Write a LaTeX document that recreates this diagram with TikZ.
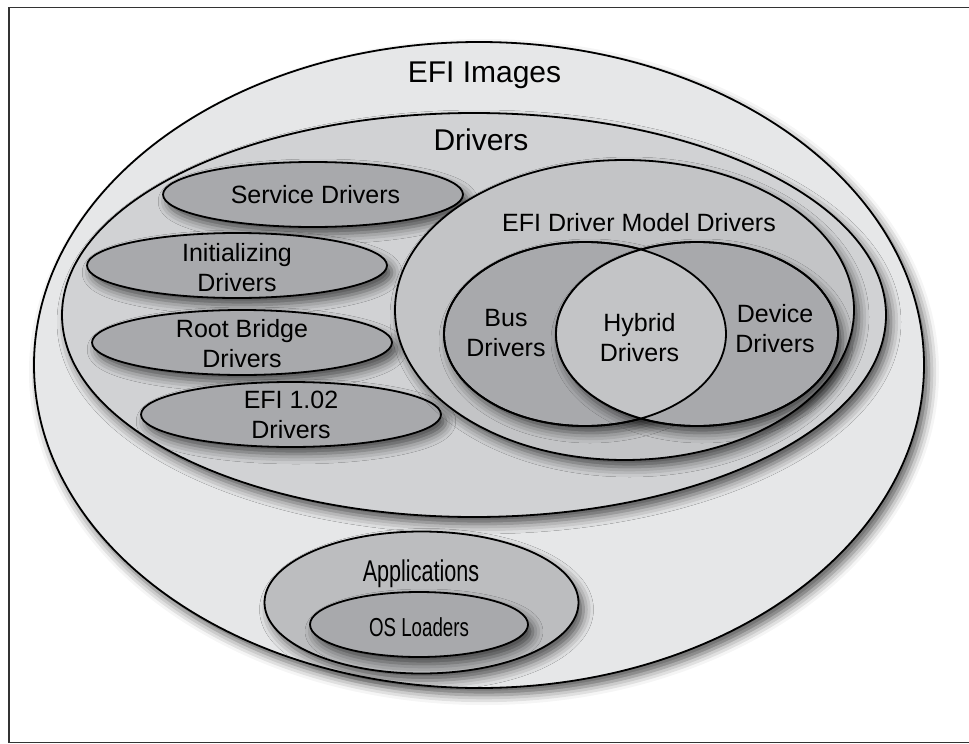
\documentclass[tikz,border=0pt]{standalone}
\usepackage{fontspec}
\setmainfont{Liberation Sans}
\newfontfamily\condfont[FakeStretch=0.72]{Liberation Sans}
\usetikzlibrary{shapes.geometric,shadows.blur}
\definecolor{ringA}{HTML}{E6E7E8}
\definecolor{ringB}{HTML}{D1D2D4}
\definecolor{ringC}{HTML}{C3C4C6}
\definecolor{ringD}{HTML}{BCBDBF}
\definecolor{inner}{HTML}{A8A9AC}

\begin{document}
\begin{tikzpicture}[x=1pt,y=-1pt,
  every node/.style={inner sep=0pt,outer sep=0pt},
  set/.style={ellipse,draw,line width=1.8pt,
    blur shadow={shadow xshift=5pt,shadow yshift=-7pt,shadow blur radius=10pt,shadow opacity=65}},
  big/.style={font=\fontsize{30}{36}\selectfont,anchor=base},
  small/.style={font=\fontsize{25}{30}\selectfont,align=center}]

        \useasboundingbox (0,0) rectangle (969,744);
        \draw[line width=1.4pt,black!80] (969,7.5) -| (9,742.5) -- (969,742.5);

        % nested sets
        \node[set,fill=ringA,minimum width=890,minimum height=646] (img) at (479,365) {};
        \node[set,fill=ringB,minimum width=824,minimum height=404] (drv) at (474,315) {};
        \node[set,fill=inner,minimum width=300,minimum height=65] (svc) at (313,194.5) {};
        \node[set,fill=inner,minimum width=300,minimum height=65] (init) at (237,265.5) {};
        \node[set,fill=inner,minimum width=300,minimum height=65] (root) at (242,342.5) {};
        \node[set,fill=inner,minimum width=300,minimum height=65] (old) at (291,414.5) {};
        \node[set,fill=ringC,minimum width=459,minimum height=300] (model) at (624.5,310) {};
        \node[set,fill=inner,minimum width=282,minimum height=184] (bus) at (585,334) {};
        \node[set,fill=inner,minimum width=282,minimum height=184] (dev) at (697,334) {};
        \node[set,fill=ringD,minimum width=314,minimum height=142] (apps) at (421.5,602.5) {};
        \node[set,fill=inner,minimum width=218,minimum height=65] (osl) at (419,624.5) {};

        % overlap of bus and device drivers
        \begin{scope}
          \clip (bus.center) ellipse [x radius=141,y radius=92];
          \fill[ringC] (dev.center) ellipse [x radius=141,y radius=92];
        \end{scope}
        \draw[line width=1.8pt] (bus.center) ellipse [x radius=141,y radius=92]
              (dev.center) ellipse [x radius=141,y radius=92];

        % labels
        \node[big] (imgtxt) at (484.5,82) {EFI Images};
        \node[big] (drvtxt) at (481,150) {Drivers};
        \node[small,anchor=base] (svctxt) at (315.5,203) {Service Drivers};
        \node[small] (inittxt) at (237,268) {Initializing\\Drivers};
        \node[small] (roottxt) at (242,344) {Root Bridge\\Drivers};
        \node[small] (oldtxt) at (291,415) {EFI 1.02\\Drivers};
        \node[small,anchor=base] (modeltxt) at (639,231.5) {EFI Driver Model Drivers};
        \node[small] (bustxt) at (506,333.5) {Bus\\Drivers};
        \node[small] (hybtxt) at (639.5,337.5) {Hybrid\\Drivers};
        \node[small] (devtxt) at (775,329) {Device\\Drivers};
        \node[font=\condfont\fontsize{30}{34}\selectfont,anchor=base] (appstxt) at (421,581) {Applications};
        \node[font=\condfont\fontsize{26}{30}\selectfont,anchor=base] (osltxt) at (419,636) {OS Loaders};
               \end{tikzpicture}
\end{document}
